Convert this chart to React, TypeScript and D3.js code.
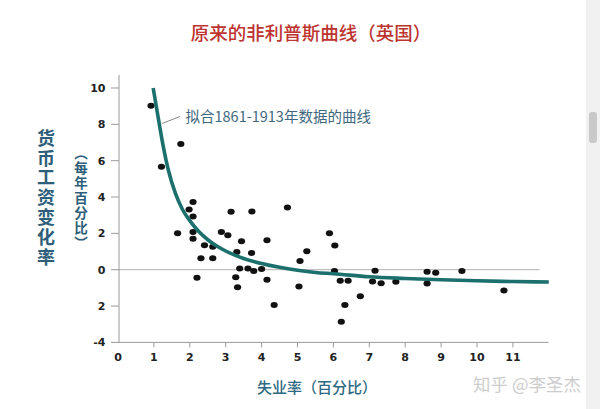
import React from "react";
import * as d3 from "d3";

// Scatter: unemployment (%) vs. money wage change (% per year)
const unemployment = [0.92, 1.75, 1.21, 2.09, 1.98, 2.09, 1.66, 2.09, 2.09, 2.41, 2.64, 2.31, 2.64, 2.2, 2.88, 3.06, 3.15, 3.73, 3.44, 3.31, 3.72, 3.39, 3.62, 3.78, 4.0, 3.28, 3.33, 4.15, 4.15, 4.35, 4.72, 5.26, 5.07, 5.04, 5.89, 6.04, 6.03, 6.19, 6.41, 6.32, 6.22, 6.75, 7.16, 7.09, 7.33, 7.74, 8.61, 8.85, 8.61, 9.58, 10.75];
const wageChange = [9.02, 6.92, 5.66, 3.73, 3.32, 2.93, 2.01, 2.08, 1.7, 1.35, 1.27, 0.63, 0.63, -0.44, 2.07, 1.9, 3.19, 3.21, 1.57, 0.98, 0.92, 0.07, 0.07, -0.07, 0.04, -0.42, -0.96, 1.62, -0.55, -1.94, 3.43, 1.01, 0.48, -0.92, 2.01, 1.33, -0.07, -0.61, -0.61, -1.94, -2.86, -1.46, -0.06, -0.65, -0.74, -0.66, -0.11, -0.17, -0.76, -0.07, -1.14];

// Fitted curve
const curveU = [0.98, 1.1, 1.25, 1.4, 1.6, 1.8, 2.0, 2.25, 2.5, 2.75, 3.0, 3.5, 4.0, 4.5, 5.0, 5.5, 6.0, 7.0, 8.0, 9.0, 10.0, 11.0, 12.0];
const curveW = [10.0, 8.6, 6.9, 5.5, 4.2, 3.3, 2.7, 2.1, 1.65, 1.3, 1.03, 0.62, 0.34, 0.13, -0.03, -0.15, -0.22, -0.39, -0.48, -0.55, -0.61, -0.65, -0.68];

const xTicks = [0, 1, 2, 3, 4, 5, 6, 7, 8, 9, 10, 11];
const yTicks = [10, 8, 6, 4, 2, 0, -2, -4];
const yTickLabels = ["10", "8", "6", "4", "2", "0", "2", "-4"];

const title = "原来的非利普斯曲线（英国）";
const yTitle = "货币工资变化率";
const ySubTitle = "（每年百分比）";
const xTitle = "失业率（百分比）";
const annotation = "拟合1861-1913年数据的曲线";
const watermark = "知乎 @李圣杰";

export default function App() {
  const W = 600;
  const H = 409;
  const x = d3.scaleLinear().domain([0, 12]).range([118, 548.8]);
  const y = d3.scaleLinear().domain([-4, 10]).range([342.4, 88]);

  const pts = curveU.map((u, i) => [u, curveW[i]] as [number, number]);
  const line = d3
    .line<[number, number]>()
    .x((d) => x(d[0]))
    .y((d) => y(d[1]))
    .curve(d3.curveMonotoneX);
  const pathD = line(pts) || "";

  const cjk = "'Noto Sans CJK SC', 'Noto Sans', sans-serif";
  const num = "'DejaVu Sans', Verdana, sans-serif";
  const axisColor = "#9a9a9a";
  const labelBlue = "#2e5e79";

  return (
    <svg
      width={W}
      height={H}
      style={{ position: "fixed", left: 0, top: 0, background: "#fff" }}
    >
      <rect x={0} y={0} width={W} height={H} fill="#fff" />
      {/* right scrollbar strip */}
      <rect x={586} y={0} width={14} height={H} fill="#f1f1f1" />
      <rect x={589} y={112} width={8} height={31} rx={3} fill="#c9c9c9" />

      {/* title */}
      <text
        x={311}
        y={40}
        textAnchor="middle"
        fontFamily={cjk}
        fontSize={18.5}
        fontWeight={500}
        fill="#bd3330"
      >
        {title}
      </text>

      {/* zero line */}
      <line x1={x(0)} x2={539.5} y1={y(0)} y2={y(0)} stroke="#b0b0b0" strokeWidth={1} />

      {/* axes */}
      <line x1={119} x2={119} y1={75} y2={y(-4)} stroke={axisColor} strokeWidth={1} />
      <line x1={119} x2={548.5} y1={y(-4)} y2={y(-4)} stroke={axisColor} strokeWidth={1} />

      {yTicks.map((t, i) => (
        <g key={"yt" + i}>
          <line x1={111} x2={119} y1={y(t)} y2={y(t)} stroke={axisColor} strokeWidth={1} />
          <text
            x={105.5}
            y={y(t)}
            dy="0.36em"
            textAnchor="end"
            fontFamily={num}
            fontWeight="bold"
            fontSize={11}
            fill="#222"
          >
            {yTickLabels[i]}
          </text>
        </g>
      ))}

      {xTicks.map((t, i) => (
        <g key={"xt" + i}>
          {t > 0 && (
            <line x1={x(t)} x2={x(t)} y1={y(-4)} y2={y(-4) + 5} stroke={axisColor} strokeWidth={1} />
          )}
          <text
            x={x(t)}
            y={361}
            textAnchor="middle"
            fontFamily={num}
            fontWeight="bold"
            fontSize={11}
            fill="#222"
          >
            {t}
          </text>
        </g>
      ))}

      {/* points */}
      {unemployment.map((u, i) => (
        <ellipse key={"p" + i} cx={x(u)} cy={y(wageChange[i])} rx={3.6} ry={3.0} fill="#111" />
      ))}

      {/* curve */}
      <path d={pathD} fill="none" stroke="#1b6f6d" strokeWidth={3.6} strokeLinecap="butt" />

      {/* annotation */}
      <line x1={162} y1={123.5} x2={180} y2={116.5} stroke="#888" strokeWidth={1} />
      <text
        x={185.5}
        y={117}
        dy="0.35em"
        fontFamily={cjk}
        fontSize={14.5}
        fill="#3f6880"
      >
        {annotation}
      </text>

      {/* y title (vertical) */}
      <text
        x={46}
        y={129}
        fontFamily={cjk}
        fontSize={18}
        fontWeight="bold"
        fill={labelBlue}
        style={{ writingMode: "vertical-rl" as any, letterSpacing: "1.8px" }}
      >
        {yTitle}
      </text>
      <text
        x={81}
        y={146}
        fontFamily={cjk}
        fontSize={13.5}
        fontWeight="bold"
        fill={labelBlue}
        style={{ writingMode: "vertical-rl" as any, letterSpacing: "1.5px" }}
      >
        {ySubTitle}
      </text>

      {/* x title */}
      <text
        x={317}
        y={388}
        dy="0.36em"
        textAnchor="middle"
        fontFamily={cjk}
        fontSize={15}
        fontWeight={500}
        fill="#2f6a82"
      >
        {xTitle}
      </text>

      {/* watermark */}
      <text
        x={473}
        y={385}
        dy="0.36em"
        fontFamily={cjk}
        fontSize={17.5}
        fill="#cdcdcd"
      >
        {watermark}
      </text>
    </svg>
  );
}
